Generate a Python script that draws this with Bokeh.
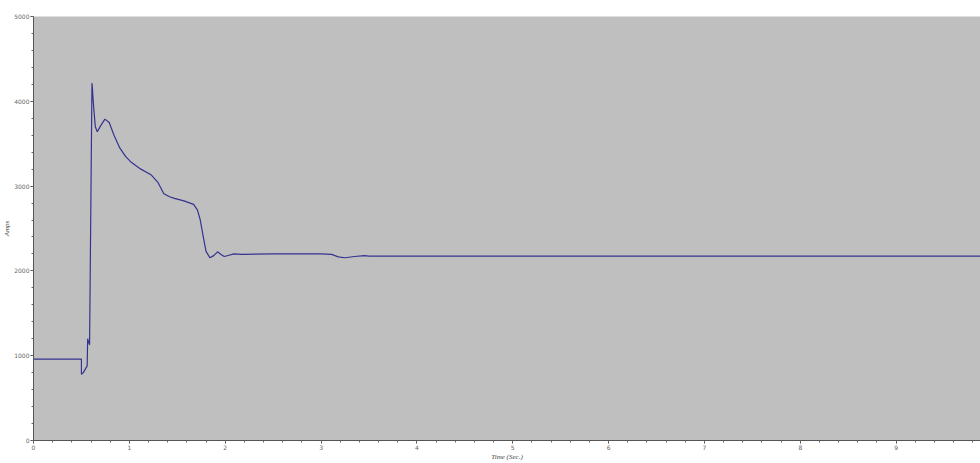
from bokeh.plotting import figure
from bokeh.models import Range1d, FixedTicker
from bokeh.embed import file_html
from bokeh.resources import INLINE

# Time (s) and current (A)
time_s = [0.0, 0.50, 0.50, 0.52, 0.56, 0.565, 0.575, 0.585, 0.585, 0.61, 0.615, 0.62,
          0.63, 0.645, 0.665, 0.70, 0.745, 0.79, 0.84, 0.90, 0.96, 1.02, 1.12, 1.23,
          1.30, 1.36, 1.42, 1.47, 1.57, 1.67, 1.71, 1.74, 1.77, 1.80, 1.84, 1.88, 1.92,
          1.96, 1.99, 2.04, 2.09, 2.17, 2.5, 3.0, 3.11, 3.18, 3.25, 3.35, 3.45, 3.5, 9.9]
amps = [960, 960, 780, 800, 880, 1200, 1160, 1130, 1130, 4215, 4150, 4050,
        3900, 3700, 3640, 3710, 3790, 3750, 3600, 3450, 3350, 3280, 3200, 3130,
        3040, 2910, 2875, 2855, 2825, 2785, 2720, 2600, 2410, 2230, 2155, 2180, 2225,
        2190, 2170, 2185, 2200, 2195, 2200, 2200, 2195, 2165, 2155, 2170, 2180, 2175, 2175]

x_ticks = [0, 1, 2, 3, 4, 5, 6, 7, 8, 9]
y_ticks = [0, 1000, 2000, 3000, 4000, 5000]

p = figure(width=980, height=463, output_backend="svg", toolbar_location=None,
           x_range=Range1d(0, 9.88), y_range=Range1d(0, 5000),
           min_border_left=30, min_border_right=0, min_border_top=16, min_border_bottom=8)

p.background_fill_color = "#c0bfc0"
p.border_fill_color = "white"
p.outline_line_color = None
p.grid.grid_line_color = None

p.line(time_s, amps, line_color="#33338f", line_width=1.2)

for ax in (p.xaxis[0], p.yaxis[0]):
    ax.axis_line_color = "#555555"
    ax.major_tick_line_color = "#444444"
    ax.minor_tick_line_color = "#666666"
    ax.major_tick_out = 3
    ax.major_tick_in = 0
    ax.minor_tick_out = 2
    ax.minor_tick_in = 0
    ax.major_label_text_font = "DejaVu Sans"
    ax.major_label_text_font_size = "6px"
    ax.major_label_text_color = "#666666"
    ax.major_label_standoff = 1
    ax.axis_label_text_font = "Liberation Serif"
    ax.axis_label_text_font_style = "italic"
    ax.axis_label_text_font_size = "7px"
    ax.axis_label_text_color = "#444444"
    ax.axis_label_standoff = 0

p.xaxis.ticker = FixedTicker(ticks=x_ticks, minor_ticks=[i * 0.2 for i in range(0, 50)])
p.yaxis.ticker = FixedTicker(ticks=y_ticks, minor_ticks=[i * 200 for i in range(0, 26)])
p.xaxis.axis_label = "Time (Sec.)"
p.yaxis.axis_label = "Amps"

open("out.html", "w").write(file_html(p, INLINE))
